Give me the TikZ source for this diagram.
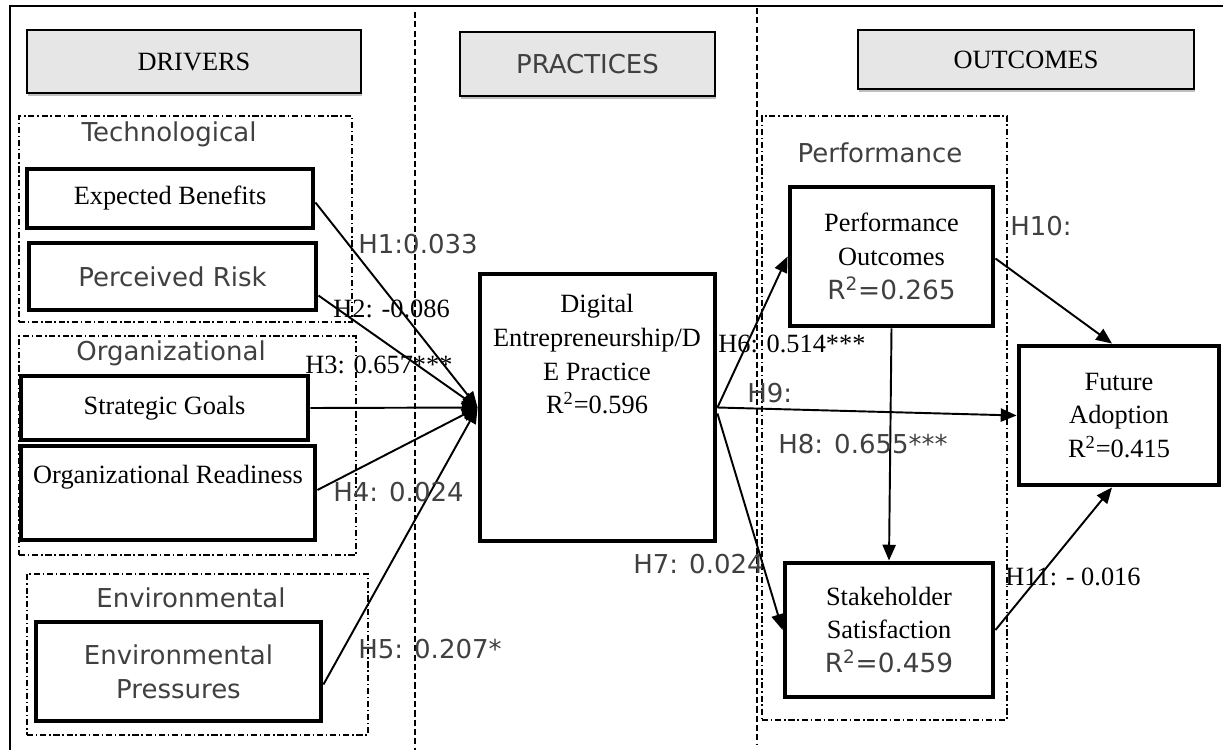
\documentclass[tikz,border=0pt]{standalone}
\usepackage{fontspec}
\setmainfont{Liberation Serif}
\newfontfamily\dv{DejaVu Sans}
\usetikzlibrary{arrows.meta,shadows,fit,calc}
\definecolor{txtgray}{HTML}{404040}
\definecolor{hdrfill}{HTML}{E6E6E6}
\begin{document}
\begin{tikzpicture}[x=0.02cm,y=-0.02cm,
  serif/.style={font=\fontsize{15}{19.2}\selectfont, text=black},
  sans/.style={font=\dv\fontsize{14.8}{19.2}\selectfont, text=txtgray},
  hdr/.style={draw=black, line width=0.8pt, fill=hdrfill, inner sep=0pt,
    drop shadow={shadow xshift=0.6pt, shadow yshift=-1.8pt, fill=black!25, opacity=1}},
  grp/.style={draw=black, line width=0.6pt, dash pattern=on 3.5pt off 1.6pt on 0.8pt off 1.6pt},
  box/.style={draw=black, line width=2.8pt, fill=white, inner sep=0pt, align=center},
  vdash/.style={draw=black, line width=0.7pt, dash pattern=on 3.5pt off 1.8pt},
  arr/.style={line width=1.1pt, -{Triangle[length=9pt,width=7.5pt]}},
  lbl/.style={inner sep=0pt, anchor=base west},
  gl/.style={inner sep=0pt, anchor=base}
]
\useasboundingbox (0,0) rectangle (1223,750);
% outer frame
\coordinate (ftl) at (10,6);
\coordinate (ftr) at (1223,6);
\coordinate (fbl) at (10,750);
\draw[line width=0.9pt] (fbl) -- (ftl) -- (ftr);
% vertical dashed separators
\coordinate (v1t) at (415,12);
\coordinate (v1b) at (415,750);
\coordinate (v2t) at (757,8);
\coordinate (v2b) at (757,745);
\draw[vdash] (v1t) -- (v1b);
\draw[vdash] (v2t) -- (v2b);
% group boxes
\node[grp, inner sep=0pt, fit={(19,116) (352,322)}] (gtech) {};
\node[grp, inner sep=0pt, fit={(19,336) (356,555)}] (gorg) {};
\node[grp, inner sep=0pt, fit={(27,574) (368,735)}] (genv) {};
\node[grp, inner sep=0pt, fit={(762,116) (1007,720)}] (gperf) {};
\node[sans, gl] (ttech) at (169,141) {Technological};
\node[sans, gl] (torg) at (171,360) {Organizational};
\node[sans, gl] (tenv) at (191,607) {Environmental};
\node[sans, gl] (tperf) at (880,162) {Performance};
% headers
\node[hdr, serif, minimum width=6.68cm, minimum height=1.26cm] (hd) at (194,61.5) {DRIVERS};
\node[hdr, sans, minimum width=5.1cm, minimum height=1.28cm] (hp) at (587.5,64) {PRACTICES};
\node[hdr, serif, minimum width=6.72cm, minimum height=1.18cm] (ho) at (1026,59.5) {OUTCOMES};
% construct boxes
\node[box, serif, minimum width=5.72cm, minimum height=1.18cm] (eb) at (170,198.5) {Expected Benefits};
\node[box, sans, minimum width=5.74cm, minimum height=1.34cm] (pr) at (172.5,276.5) {Perceived Risk};
\node[box, serif, minimum width=5.74cm, minimum height=1.28cm] (sg) at (164.5,408) {Strategic Goals};
\node[box, minimum width=5.88cm, minimum height=1.88cm] (or) at (168,493) {};
\node[serif, gl] (ortext) at (168,483) {Organizational Readiness};
\node[box, sans, minimum width=5.70cm, minimum height=1.98cm] (ep) at (178.5,671.5) {Environmental\\Pressures};
\node[box, minimum width=4.70cm, minimum height=5.34cm] (dep) at (597.5,407.5) {};
\node[serif, align=center, anchor=north, inner sep=0pt] (deptext) at (597,294)
  {Digital\\Entrepreneurship/D\\E Practice\\R\textsuperscript{2}=0.596};
\node[box, serif, minimum width=4.06cm, minimum height=2.78cm] (po) at (891.5,256.5)
  {Performance\\Outcomes\\{\dv\color{txtgray}R\textsuperscript{2}=0.265}};
\node[box, serif, minimum width=4.00cm, minimum height=2.78cm] (fa) at (1119,415.5)
  {Future\\Adoption\\R\textsuperscript{2}=0.415};
\node[box, serif, minimum width=4.16cm, minimum height=2.68cm] (ss) at (889,630)
  {Stakeholder\\Satisfaction\\{\dv\color{txtgray}R\textsuperscript{2}=0.459}};
% connectors
\draw[arr] ($(eb.east)+(0,4)$) -- (dep.west);
\draw[arr] ($(pr.east)+(0,19)$) -- (dep.west);
\draw[arr] (sg.east) -- (dep.west);
\draw[arr] ($(or.east)+(0,-3)$) -- (dep.west);
\draw[arr] ($(ep.east)+(0,13)$) -- (dep.west);
\draw[arr] (dep.east) -- (po.west);
\draw[arr] (dep.east) -- (fa.west);
\draw[arr] ($(dep.east)+(0,6)$) -- (ss.west);
\draw[arr] (po.south) -- (ss.north);
\draw[arr] ($(po.east)+(0,2)$) -- ($(fa.north)+(-7,0)$);
\draw[arr] (ss.east) -- ($(fa.south)+(-7,0)$);
% path labels
\node[sans, lbl] (l1) at (358,253) {H1:0.033};
\node[serif, lbl] (l2) at (333,317) {H2: -0.086};
\node[serif, lbl] (l3) at (305,373) {H3: 0.657***};
\node[sans, lbl] (l4) at (333,501) {H4: 0.024};
\node[sans, lbl] (l5) at (358,658) {H5: 0.207*};
\node[serif, lbl] (l6) at (718,352) {H6: 0.514***};
\node[sans, lbl] (l7) at (633,573) {H7: 0.024};
\node[sans, lbl] (l8) at (778,453) {H8: 0.655***};
\node[sans, lbl] (l9) at (747,402) {H9:};
\node[sans, lbl] (l10) at (1010,235) {H10:};
\node[serif, lbl] (l11) at (1005,585) {H11: - 0.016};
\end{tikzpicture}
\end{document}
